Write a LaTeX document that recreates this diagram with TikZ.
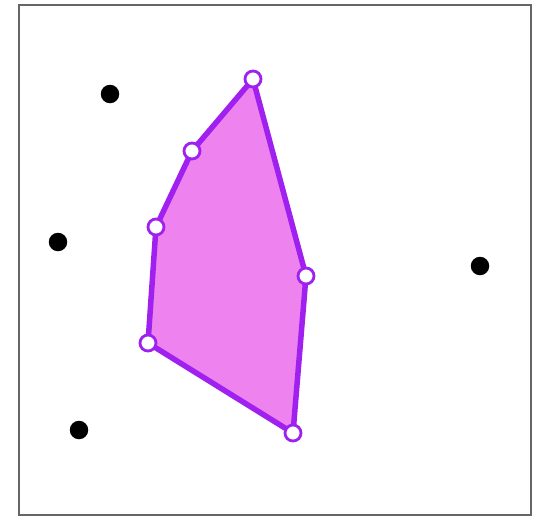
\documentclass[tikz,border=0pt]{standalone}
\definecolor{polyfill}{HTML}{EE82EE}
\definecolor{polyline}{HTML}{A020F0}
\definecolor{framegray}{HTML}{666666}
\tikzset{
  dot/.style={circle,fill=black,inner sep=0pt,minimum size=18.5pt},
  vtx/.style={circle,draw=polyline,fill=white,line width=2.8pt,inner sep=0pt,minimum size=16pt},
}
\begin{document}
\begin{tikzpicture}[x=1pt,y=-1pt]
\useasboundingbox (0,0) rectangle (542,517);
\draw[framegray,line width=2.6pt] (19,5) rectangle (531,515);
\coordinate (p1) at (253,79);
\coordinate (p2) at (192,151);
\coordinate (p3) at (156,227);
\coordinate (p4) at (148,343);
\coordinate (p5) at (293,433);
\coordinate (p6) at (306,276);
\filldraw[fill=polyfill,draw=polyline,line width=5.5pt,line join=round] (p1) -- (p2) -- (p3) -- (p4) -- (p5) -- (p6) -- cycle;
\foreach \p in {p1,p2,p3,p4,p5,p6} \node[vtx] (v\p) at (\p) {};
\node[dot] (d1) at (110,94) {};
\node[dot] (d2) at (58,242) {};
\node[dot] (d3) at (480,266) {};
\node[dot] (d4) at (79,430) {};
\end{tikzpicture}
\end{document}
